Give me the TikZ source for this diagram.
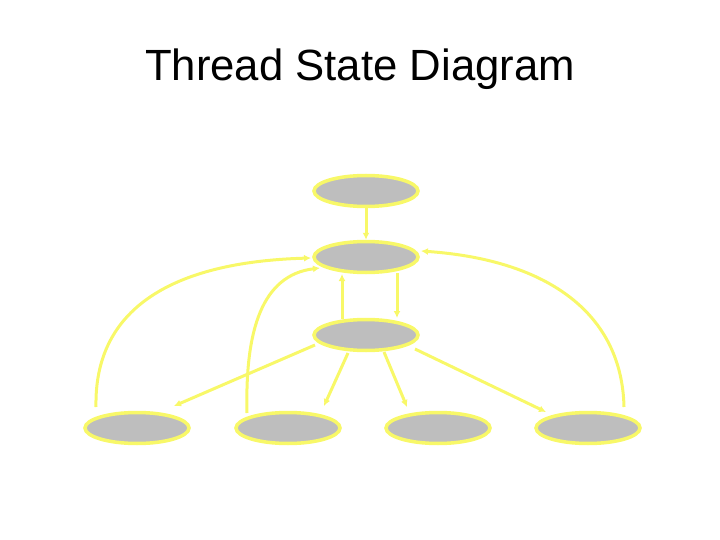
\documentclass[tikz,border=0pt]{standalone}
\usepackage{fontspec}
\setmainfont{Liberation Sans}
\usetikzlibrary{arrows.meta,shapes.geometric}
\definecolor{edgeyel}{HTML}{F8F868}
\definecolor{stategray}{HTML}{BEBEBE}
\begin{document}
\begin{tikzpicture}[x=1pt,y=-1pt,
  statebox/.style={ellipse, draw=edgeyel, fill=stategray, line width=3.5pt,
    minimum width=104pt, minimum height=31pt, inner sep=0pt},
  conn/.style={draw=edgeyel, line width=3pt, -{Latex[length=7pt,width=7pt]}}]
\useasboundingbox (0,0) rectangle (720,540);
\node[anchor=base, font=\fontsize{43.7}{50}\selectfont] (title) at (360,81) {Thread State Diagram};
\node[statebox] (new) at (366,191) {};
\node[statebox] (ready) at (366,257) {};
\node[statebox] (run) at (366,335) {};
\node[statebox] (b1) at (137,428) {};
\node[statebox] (b2) at (288,428) {};
\node[statebox] (b3) at (438,428) {};
\node[statebox] (b4) at (588,428) {};
\draw[conn] (new.south) -- (ready.north);
\draw[conn] ([shift={(31,16)}]ready.center) -- ([shift={(31,-17)}]run.center);
\draw[conn] ([shift={(-24,-16)}]run.center) -- ([shift={(-24,17)}]ready.center);
\draw[conn] ([shift={(-41,-21)}]b1.center) .. controls (94,310) and (170,262) .. ([shift={(-55,1)}]ready.center);
\draw[conn] ([shift={(-41,-15)}]b2.center) .. controls (245,330) and (262,275) .. ([shift={(-46,11)}]ready.center);
\draw[conn] ([shift={(-51,10)}]run.center) -- ([shift={(37,-22)}]b1.center);
\draw[conn] ([shift={(-18,18)}]run.center) -- ([shift={(36,-22)}]b2.center);
\draw[conn] ([shift={(18,17)}]run.center) -- ([shift={(-31,-21)}]b3.center);
\draw[conn] ([shift={(49,14)}]run.center) -- ([shift={(-42,-16)}]b4.center);
\draw[conn] ([shift={(36,-21)}]b4.center) .. controls (622,315) and (550,260) .. ([shift={(55,-6)}]ready.center);
\end{tikzpicture}
\end{document}
